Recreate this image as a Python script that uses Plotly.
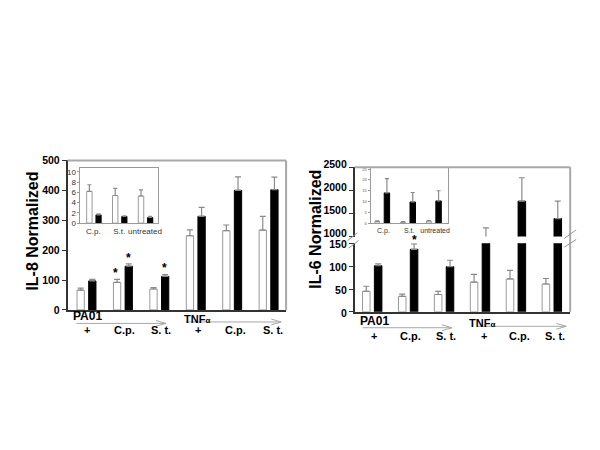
import plotly.graph_objects as go

# ---------------- data ----------------
groups = ["+", "C.p.", "S. t.", "+", "C.p.", "S. t."]
il8_white = [66, 92, 70, 248, 265, 267]
il8_white_err = [7, 10, 5, 20, 19, 46]
il8_black = [97, 146, 112, 313, 400, 402]
il8_black_err = [5, 8, 6, 30, 45, 42]
il8_ticks = [0, 100, 200, 300, 400, 500]

inset_cats = ["C.p.", "S.t.", "untreated"]
il8_in_white = [6.2, 5.4, 5.3]
il8_in_white_err = [1.3, 1.4, 1.2]
il8_in_black = [1.6, 1.3, 1.1]
il8_in_black_err = [0.2, 0.1, 0.2]
il8_in_ticks = [0, 2, 4, 6, 8, 10]

il6_white = [45, 34, 38, 65, 72, 61]
il6_white_err = [11, 5, 7, 17, 19, 12]
il6_black = [101, 137, 99, 980, 1765, 1390]
il6_black_err = [4, 12, 14, 210, 506, 375]
il6_low_ticks = [0, 50, 100, 150]
il6_high_ticks = [1000, 1500, 2000, 2500]

il6_in_white = [0.8, 0.5, 1.0]
il6_in_white_err = [0.2, 0.2, 0.2]
il6_in_black = [14.0, 9.8, 10.3]
il6_in_black_err = [6.6, 4.4, 4.7]
il6_in_ticks = [0, 5, 10, 15, 20, 25]

FONT = "Liberation Sans, Arial, sans-serif"
W, H = 600, 450


def px(x):
    return x / W


def py(y):
    return 1 - y / H


fig = go.Figure()
xs = list(range(6))
xi = list(range(3))


def bars(x, y, err, xa, ya, white, offset, width, capw=3):
    fig.add_trace(go.Bar(
        x=x, y=y, xaxis=xa, yaxis=ya, offset=offset, width=width,
        marker=dict(color="white" if white else "black",
                    line=dict(color="#9a9a9a" if white else "black", width=1)),
        error_y=dict(type="data", array=err, arrayminus=[0] * len(err), symmetric=False,
                     color="#8a8a8a", thickness=1.2, width=capw),
        showlegend=False, hoverinfo="skip"))


# left main
bars(xs, il8_white, il8_white_err, "x", "y", True, -0.24, 0.2)
bars(xs, il8_black, il8_black_err, "x", "y", False, 0.08, 0.2)
# left inset
bars(xi, il8_in_white, il8_in_white_err, "x2", "y2", True, -0.26, 0.21, 2)
bars(xi, il8_in_black, il8_in_black_err, "x2", "y2", False, 0.1, 0.2, 2)
# right lower + upper
for ya in ["y3", "y4"]:
    bars(xs, il6_white, il6_white_err, "x3", ya, True, -0.28, 0.21)
    bars(xs, il6_black, il6_black_err, "x3", ya, False, 0.05, 0.21)
# right inset
bars(xi, il6_in_white, il6_in_white_err, "x5", "y5", True, -0.33, 0.18, 2)
bars(xi, il6_in_black, il6_in_black_err, "x5", "y5", False, 0.03, 0.21, 2)

tickfont = dict(family=FONT, size=10.5, color="black")
axline = dict(showline=True, linecolor="#333333", linewidth=1.5, showgrid=False, zeroline=False)
insetfont = dict(family=FONT, size=8, color="#333333")


def bold(vals):
    return ["<b>%d</b>" % v for v in vals]


fig.update_layout(
    width=W, height=H, margin=dict(l=0, r=0, t=0, b=0),
    paper_bgcolor="white", plot_bgcolor="rgba(0,0,0,0)", barmode="overlay",
    font=dict(family=FONT),
    xaxis=dict(domain=[px(68), px(288)], range=[-0.5, 5.5], anchor="y", showticklabels=False,
               ticks="", **axline),
    yaxis=dict(domain=[py(312), py(157)], range=[0, 500], anchor="x", tickvals=il8_ticks,
               ticktext=bold(il8_ticks), ticks="outside", ticklen=4, tickcolor="#333",
               tickfont=tickfont, **axline),
    xaxis2=dict(domain=[px(81), px(159)], range=[-0.5, 2.5], anchor="y2", tickvals=xi, ticktext=inset_cats,
                ticks="", tickfont=insetfont, showline=True, mirror=True,
                linecolor="#9a9a9a", linewidth=1, showgrid=False, zeroline=False),
    yaxis2=dict(domain=[py(222), py(165)], range=[0, 10.75], anchor="x2", tickvals=il8_in_ticks,
                ticks="outside", ticklen=2, tickcolor="#9a9a9a",
                tickfont=insetfont, showline=True, mirror=True,
                linecolor="#9a9a9a", linewidth=1, showgrid=False, zeroline=False),
    xaxis3=dict(domain=[px(357), px(574)], range=[-0.5, 5.5], anchor="y3", showticklabels=False,
                ticks="", **axline),
    yaxis3=dict(domain=[py(314), py(243)], range=[0, 150], anchor="x3", tickvals=il6_low_ticks,
                ticktext=bold(il6_low_ticks), ticks="outside", ticklen=4, tickcolor="#333",
                tickfont=tickfont, ticklabelshift=1, **axline),
    yaxis4=dict(domain=[py(236), py(164)], range=[1000, 2500], anchor="x3", tickvals=il6_high_ticks,
                ticktext=bold(il6_high_ticks), ticks="outside", ticklen=4, tickcolor="#333",
                tickfont=tickfont, ticklabelshift=-3, **axline),
    xaxis5=dict(domain=[px(373), px(451)], range=[-0.5, 2.5], anchor="y5", tickvals=xi, ticktext=inset_cats,
                ticks="", tickfont=dict(family=FONT, size=7, color="#333333"), showline=True, mirror=True,
                linecolor="#9a9a9a", linewidth=1, showgrid=False, zeroline=False),
    yaxis5=dict(domain=[py(222), py(165)], range=[0, 25.5], anchor="x5", tickvals=il6_in_ticks,
                ticks="outside", ticklen=2, tickcolor="#9a9a9a",
                tickfont=dict(family=FONT, size=4, color="#555555"), showline=True, mirror=True,
                linecolor="#9a9a9a", linewidth=1, showgrid=False, zeroline=False),
)

shapes = []
gray = "#a8a8a8"


def seg(x0, y0, x1, y1, color=gray, w=1.5):
    shapes.append(dict(type="line", xref="paper", yref="paper", x0=px(x0), y0=py(y0), x1=px(x1), y1=py(y1),
                       line=dict(color=color, width=w)))


# frame borders
seg(68, 157, 288, 157, w=2)
seg(288, 157, 288, 312, w=2)
seg(357, 164, 574, 164, w=2)
seg(574, 164, 574, 314, w=2)
# break marks
seg(350, 240, 360, 232, color="#999", w=1)
seg(351, 248, 361, 240, color="#999", w=1)
seg(568, 238, 580, 229, color="#999", w=1)
seg(568, 247, 580, 239, color="#999", w=1)


def arrow(x0, x1, y):
    seg(x0, y, x1, y, w=1)
    seg(x1 - 10, y - 3, x1, y, w=1)
    seg(x1 - 10, y + 3, x1, y, w=1)


arrow(77, 167, 326)
arrow(187, 283, 324.5)
arrow(365, 455, 330.5)
arrow(480, 570, 329)
fig.update_layout(shapes=shapes)

ann = []


def text(x, y, s, size=11, bold=True, angle=0, color="black"):
    ann.append(dict(xref="paper", yref="paper", x=px(x), y=py(y), text=("<b>%s</b>" % s) if bold else s,
                    showarrow=False, xanchor="center", yanchor="middle", textangle=angle,
                    font=dict(family=FONT, size=size, color=color)))


text(33, 230, "IL-8 Normalized", size=16, angle=-90)
text(318, 228, "IL-6 Normalized", size=16, angle=-90)

text(88, 318, "PA01", size=12)
text(198, 321, "TNF<span style='font-size:8px'>α</span>", size=11)
text(377, 324, "PA01", size=12)
text(485, 326, "TNF<span style='font-size:8px'>α</span>", size=11)

left_label_x = [88, 125, 162, 199, 237, 275]
right_label_x = [377, 413, 449, 487, 523, 559]
for g, lx, rx in zip(groups, left_label_x, right_label_x):
    text(lx, 333, g, size=11)
    text(rx, 339, g, size=11)

# significance asterisks
for (ax_, ay_) in [(116, 274), (129.5, 258.5), (166, 269), (417, 240)]:
    text(ax_, ay_, "*", size=12)

fig.update_layout(annotations=ann)
fig.write_html("out.html", config={"displayModeBar": False},
               post_script="document.body.style.margin='0';")
